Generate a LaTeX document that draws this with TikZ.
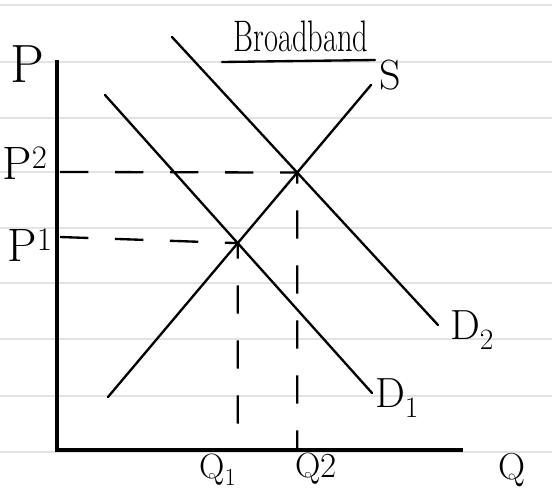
\documentclass[tikz,border=0pt]{standalone}
\usetikzlibrary{positioning}

\begin{document}
\begin{tikzpicture}[x=0.03cm,y=-0.03cm,
    paperline/.style={draw=black!11,line width=1pt},
    axis/.style={line width=2.6pt},
    curve/.style={line width=2pt,line cap=round},
    guide/.style={line width=2pt,dash pattern=on 0.85cm off 0.8cm},
    lab/.style={font=\fontsize{36}{40}\selectfont,inner sep=0pt}]
    \useasboundingbox (0,0) rectangle (552,493);

    % ruled paper
    \foreach \y in {5,62,118,172,228,283,339,396,452}
      \draw[paperline] (0,\y) -- (552,\y);

    % axes
    \coordinate (origin) at (57,450);
    \coordinate (ptop) at (57,60);
    \coordinate (qend) at (463,450);
    \draw[axis] (ptop) -- (origin) -- (qend);

    % supply and the two demand curves
    \coordinate (s0) at (108,397);
    \coordinate (s1) at (371,85);
    \coordinate (da0) at (105,95);
    \coordinate (da1) at (372,393);
    \coordinate (db0) at (172,37);
    \coordinate (db1) at (438,325);
    \draw[curve] (s0) -- (s1);
    \draw[curve] (da0) -- (da1);
    \draw[curve] (db0) -- (db1);

    \coordinate (eq1) at (intersection of s0--s1 and da0--da1);
    \coordinate (eq2) at (intersection of s0--s1 and db0--db1);
    \coordinate (p1) at (60,237);
    \coordinate (p2) at (60,172);
    \coordinate (q1) at (eq1 |- origin);
    \coordinate (q2) at (eq2 |- origin);
    \draw[guide] (p1) -- (eq1) -- (q1);
    \draw[guide] (p2) -- (eq2) -- (q2);

    % labels
    \node[lab,font=\fontsize{46}{50}\selectfont] (pLabel) at (27,64) {P};
    \node[lab,font=\fontsize{40}{44}\selectfont] (p2Label) at (25,163) {P\textsuperscript{2}};
    \node[lab,font=\fontsize{40}{44}\selectfont] (p1Label) at (30,245) {P\textsuperscript{1}};
    \node[lab,font=\fontsize{30}{34}\selectfont] (q1Label) at (218,470) {Q\textsubscript{1}};
    \node[lab,font=\fontsize{30}{34}\selectfont] (q2Label) at (316,469) {Q2};
    \node[lab,font=\fontsize{32}{36}\selectfont] (qLabel) at (512,470) {Q};
    \node[lab] (sLabel) at (390,75) {S};
    \node[lab] (d2Label) at (472,330) {D\textsubscript{2}};
    \node[lab] (d1Label) at (397,398) {D\textsubscript{1}};

    \node[lab,font=\fontsize{26}{30}\selectfont] (title) at (301,36) {\scalebox{1}[1.45]{Broadband}};
    \coordinate (ulA) at (222,62);
    \coordinate (ulB) at (375,60);
    \draw[curve] (ulA) -- (ulB);
  \end{tikzpicture}
\end{document}
